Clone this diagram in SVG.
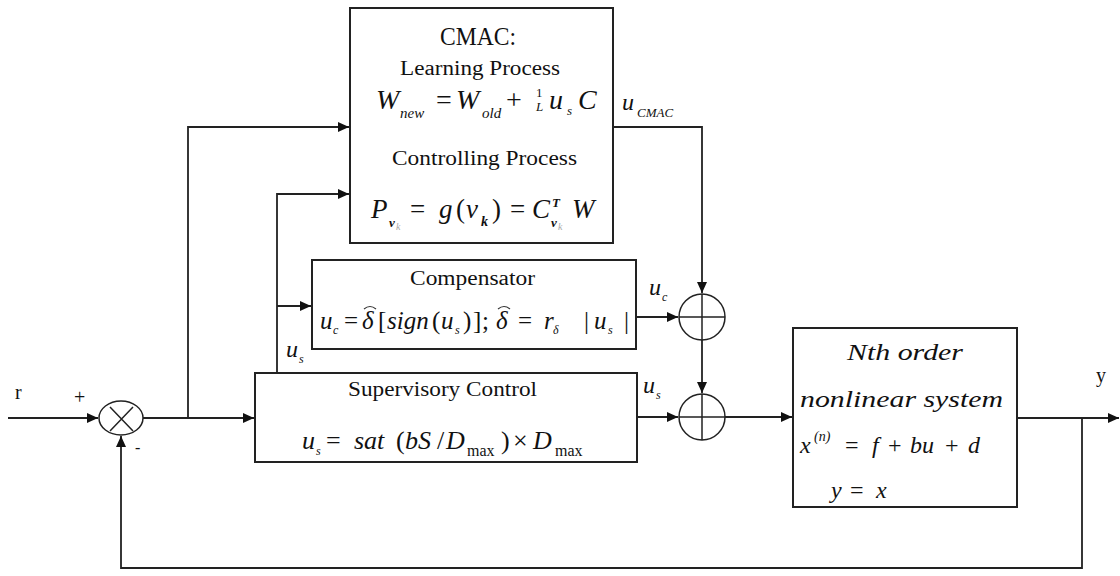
<svg xmlns="http://www.w3.org/2000/svg" width="1120" height="576" viewBox="0 0 1120 576">
<style>
.box{fill:#fff;stroke:#222;stroke-width:2}
.ln{fill:none;stroke:#222;stroke-width:1.8}
.sum{fill:none;stroke:#222;stroke-width:1.5}
.acc{fill:none;stroke:#333;stroke-width:1.2}
.m{font-style:italic}
.up{font-style:normal}
</style>
<defs>
<marker id="ar" markerUnits="userSpaceOnUse" markerWidth="12" markerHeight="10" refX="11" refY="5" orient="auto">
<path d="M0,0 L11,5 L0,10 Z" fill="#111"/>
</marker>
</defs>
<rect width="1120" height="576" fill="#fff"/>

<g id="connectors">
<path class="ln" d="M8,418 H98" marker-end="url(#ar)"/>
<path class="ln" d="M143,418 H254" marker-end="url(#ar)"/>
<path class="ln" d="M188,418 V127 H349" marker-end="url(#ar)"/>
<path class="ln" d="M277,373 V194 H349" marker-end="url(#ar)"/>
<path class="ln" d="M277,306 H311" marker-end="url(#ar)"/>
<path class="ln" d="M613,127 H702 V293" marker-end="url(#ar)"/>
<path class="ln" d="M636,317 H678" marker-end="url(#ar)"/>
<path class="ln" d="M702,340 V393" marker-end="url(#ar)"/>
<path class="ln" d="M637,417 H678" marker-end="url(#ar)"/>
<path class="ln" d="M725,417 H792" marker-end="url(#ar)"/>
<path class="ln" d="M1017,418 H1119" marker-end="url(#ar)"/>
<path class="ln" d="M1082,418 V568 H121 V436" marker-end="url(#ar)"/>
</g>

<g id="sum-r">
<ellipse class="sum" cx="121" cy="418" rx="22" ry="17"/>
<path class="sum" d="M110,407 L133,431 M133,407 L110,431"/>
</g>

<g id="sum-1">
<circle class="sum" cx="702" cy="317" r="23"/>
<path class="sum" d="M679,317 H725 M702,294 V340"/>
</g>

<g id="sum-2">
<circle class="sum" cx="702" cy="417" r="23"/>
<path class="sum" d="M679,417 H725 M702,394 V440"/>
</g>

<g font-family="Liberation Serif, Times New Roman, Tinos, Noto Serif, FreeSerif, DejaVu Serif, serif" fill="#111">
<g id="cmac">
<rect class="box" x="350" y="8" width="263" height="235"/>
<text x="478" y="45" font-size="25" text-anchor="middle" textLength="76" lengthAdjust="spacingAndGlyphs">CMAC:</text>
<text x="400" y="75" font-size="20" textLength="160" lengthAdjust="spacingAndGlyphs">Learning Process</text>
<text class="m" font-size="28"><tspan x="376" y="109">W</tspan><tspan x="400" y="118" font-size="15">new</tspan><tspan class="up" x="436" y="109">=</tspan><tspan x="456" y="109">W</tspan><tspan x="482" y="118" font-size="15">old</tspan><tspan class="up" x="506" y="109">+</tspan><tspan class="up" x="536" y="97" font-size="13">1</tspan><tspan x="536" y="111" font-size="13">L</tspan><tspan x="549" y="109">u</tspan><tspan x="567" y="115" font-size="13">s</tspan><tspan x="578" y="109">C</tspan></text>
<text x="392" y="165" font-size="20" textLength="185" lengthAdjust="spacingAndGlyphs">Controlling Process</text>
<text class="m" font-size="27"><tspan x="371" y="218">P</tspan><tspan x="389" y="227" font-size="13" font-weight="bold">v</tspan><tspan x="396" y="230" font-size="10" fill="#aaa">k</tspan><tspan class="up" x="410" y="218">=</tspan><tspan x="439" y="218">g</tspan><tspan class="up" x="456" y="218">(</tspan><tspan x="466" y="218">v</tspan><tspan x="481" y="226" font-size="14" font-weight="bold">k</tspan><tspan class="up" x="492" y="218">)</tspan><tspan class="up" x="510" y="218">=</tspan><tspan x="532" y="218">C</tspan><tspan x="552" y="207" font-size="13" font-weight="bold">T</tspan><tspan x="551" y="227" font-size="13" font-weight="bold">v</tspan><tspan x="558" y="230" font-size="10" fill="#aaa">k</tspan><tspan x="572" y="218">W</tspan></text>
</g>

<g id="compensator">
<rect class="box" x="312" y="260" width="324" height="89"/>
<text x="410" y="285" font-size="20" textLength="125" lengthAdjust="spacingAndGlyphs">Compensator</text>
<text class="m" font-size="25"><tspan x="320" y="329">u</tspan><tspan x="333" y="334" font-size="12">c</tspan><tspan class="up" x="344" y="329">=</tspan><tspan x="362" y="329">δ</tspan><tspan class="up" x="378" y="329">[</tspan><tspan x="387" y="329">sign</tspan><tspan class="up" x="432" y="329">(</tspan><tspan x="441" y="329">u</tspan><tspan x="455" y="334" font-size="12">s</tspan><tspan class="up" x="463" y="329">)</tspan><tspan class="up" x="473" y="329">]</tspan><tspan class="up" x="482" y="329">;</tspan><tspan x="496" y="329">δ</tspan><tspan class="up" x="518" y="329">=</tspan><tspan x="544" y="329">r</tspan><tspan x="553" y="334" font-size="12">δ</tspan><tspan class="up" x="584" y="329">|</tspan><tspan x="594" y="329">u</tspan><tspan x="608" y="334" font-size="12">s</tspan><tspan class="up" x="624" y="329">|</tspan></text>
<path class="acc" d="M364,309 Q370,304 376,309 M498,309 Q504,304 510,309"/>
</g>

<g id="supervisory">
<rect class="box" x="255" y="373" width="382" height="89"/>
<text x="348" y="396" font-size="20" textLength="189" lengthAdjust="spacingAndGlyphs">Supervisory Control</text>
<text class="m" font-size="26"><tspan x="302" y="449">u</tspan><tspan x="316" y="455" font-size="12">s</tspan><tspan class="up" x="326" y="449">=</tspan><tspan x="354" y="449">sat</tspan><tspan class="up" x="396" y="449">(</tspan><tspan x="405" y="449">bS</tspan><tspan class="up" x="437" y="449">/</tspan><tspan x="446" y="449">D</tspan><tspan class="up" x="467" y="456" font-size="16">max</tspan><tspan class="up" x="501" y="449">)</tspan><tspan class="up" x="513" y="449">×</tspan><tspan x="533" y="449">D</tspan><tspan class="up" x="555" y="456" font-size="16">max</tspan></text>
</g>

<g id="plant">
<rect class="box" x="793" y="328" width="224" height="179"/>
<text class="m" x="847" y="360" font-size="23" textLength="116" lengthAdjust="spacingAndGlyphs">Nth order</text>
<text class="m" x="800" y="407" font-size="23" textLength="203" lengthAdjust="spacingAndGlyphs">nonlinear system</text>
<text class="m" font-size="24"><tspan x="800" y="453">x</tspan><tspan x="814" y="441" font-size="14">(n)</tspan><tspan class="up" x="845" y="453">=</tspan><tspan x="872" y="453">f</tspan><tspan class="up" x="888" y="453">+</tspan><tspan x="910" y="453">bu</tspan><tspan class="up" x="945" y="453">+</tspan><tspan x="968" y="453">d</tspan></text>
<text class="m" font-size="24"><tspan x="831" y="498">y</tspan><tspan class="up" x="850" y="498">=</tspan><tspan x="876" y="498">x</tspan></text>
</g>

<g id="labels">
<text x="15" y="399" font-size="20">r</text>
<text x="74" y="404" font-size="20">+</text>
<text x="135" y="453" font-size="16">-</text>
<text x="1096" y="382" font-size="20">y</text>
<text class="m" font-size="24"><tspan x="622" y="110">u</tspan><tspan x="637" y="117" font-size="13">CMAC</tspan></text>
<text class="m" font-size="24"><tspan x="286" y="357">u</tspan><tspan x="299" y="363" font-size="12">s</tspan></text>
<text class="m" font-size="24"><tspan x="649" y="295">u</tspan><tspan x="662" y="301" font-size="12">c</tspan></text>
<text class="m" font-size="24"><tspan x="643" y="393">u</tspan><tspan x="656" y="399" font-size="12">s</tspan></text>
</g>
</g>
</svg>
